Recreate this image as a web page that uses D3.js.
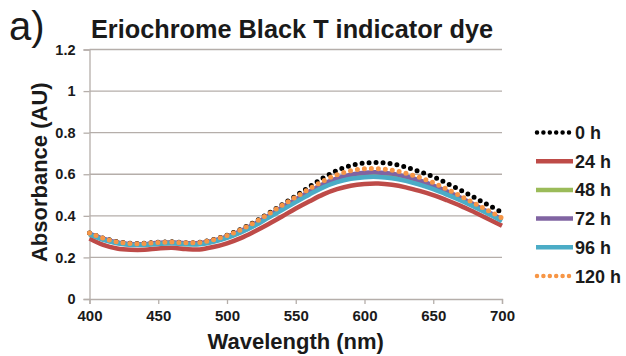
<!DOCTYPE html>
<html><head><meta charset="utf-8">
<script src="https://cdn.jsdelivr.net/npm/d3@7"></script>
<style>
html,body{margin:0;padding:0;background:#fff;}
svg{display:block;font-family:"Liberation Sans",Arial,sans-serif;}
</style></head>
<body><svg id="c" width="626" height="356"></svg>
<script>
const wavelengths = [400,410,420,430,440,450,460,470,480,490,500,510,520,530,540,550,560,570,580,590,600,610,620,630,640,650,660,670,680,690,700];
const seriesNames = ["0 h","24 h","48 h","72 h","96 h","120 h"];
const h0   = [0.318,0.293,0.276,0.268,0.268,0.273,0.275,0.271,0.273,0.286,0.307,0.335,0.371,0.411,0.454,0.496,0.540,0.583,0.618,0.642,0.654,0.656,0.650,0.635,0.613,0.588,0.556,0.523,0.488,0.452,0.416];
const h24  = [0.291,0.260,0.243,0.237,0.237,0.243,0.246,0.240,0.238,0.250,0.268,0.293,0.325,0.360,0.397,0.435,0.470,0.503,0.528,0.545,0.553,0.555,0.549,0.537,0.520,0.500,0.475,0.448,0.417,0.385,0.352];
const h48  = [0.312,0.287,0.270,0.262,0.262,0.267,0.270,0.265,0.266,0.278,0.297,0.323,0.356,0.395,0.434,0.472,0.510,0.545,0.571,0.588,0.596,0.598,0.592,0.578,0.560,0.537,0.510,0.480,0.448,0.414,0.379];
const h72  = [0.315,0.290,0.272,0.264,0.264,0.270,0.272,0.268,0.269,0.281,0.300,0.327,0.361,0.400,0.440,0.479,0.517,0.553,0.580,0.598,0.607,0.609,0.603,0.589,0.570,0.546,0.518,0.487,0.453,0.418,0.383];
const h96  = [0.310,0.284,0.268,0.260,0.260,0.265,0.268,0.263,0.263,0.275,0.294,0.320,0.352,0.390,0.428,0.466,0.503,0.537,0.562,0.578,0.586,0.587,0.581,0.568,0.550,0.528,0.502,0.474,0.443,0.410,0.375];
const h120 = [0.318,0.293,0.275,0.267,0.267,0.272,0.274,0.270,0.272,0.285,0.305,0.333,0.368,0.408,0.450,0.490,0.530,0.568,0.598,0.617,0.626,0.627,0.620,0.605,0.585,0.560,0.528,0.495,0.460,0.425,0.390];
const xTicks = [400,450,500,550,600,650,700];
const yTicks = [0,0.2,0.4,0.6,0.8,1,1.2];
const yTickLabels = ["0","0.2","0.4","0.6","0.8","1","1.2"];

const seriesValues = [h0,h24,h48,h72,h96,h120];
const colors = ["#000000","#be4b48","#9bbb59","#8064a2","#4bacc6","#f79646"];
const dotted = [true,false,false,false,false,true];

const svg = d3.select("#c");
const x = d3.scaleLinear().domain([400,700]).range([89.5,502]);
const y = d3.scaleLinear().domain([0,1.2]).range([299,49.5]);
const grid = "#b5aeaa";

svg.append("g").selectAll("line").data(yTicks.slice(1)).join("line")
  .attr("x1",x(400)).attr("x2",x(700)).attr("y1",d=>y(d)).attr("y2",d=>y(d))
  .attr("stroke",grid).attr("stroke-width",1.3);

const xAxis = svg.append("g").attr("transform",`translate(0,${y(0)})`)
  .call(d3.axisBottom(x).tickValues(xTicks).tickSize(5).tickPadding(6).tickFormat(d3.format("d")));
const yAxis = svg.append("g").attr("transform",`translate(${x(400)},0)`)
  .call(d3.axisLeft(y).tickValues(yTicks).tickSize(6).tickPadding(8).tickFormat((d,i)=>yTickLabels[i]));
[xAxis,yAxis].forEach(a=>{
  a.select(".domain").attr("stroke",grid).attr("stroke-width",1.3);
  a.selectAll(".tick line").attr("stroke",grid).attr("stroke-width",1.3);
  a.selectAll("text").attr("fill","#1a1a1a").attr("font-weight","bold").attr("font-family","Liberation Sans, Arial, sans-serif");
});
xAxis.selectAll("text").attr("font-size",15);
yAxis.selectAll("text").attr("font-size",14.5);

const line = d3.line().x((d,i)=>x(wavelengths[i])).y(d=>y(d)).curve(d3.curveCatmullRom.alpha(0.5));
seriesValues.forEach((vals,k)=>{
  const p = svg.append("path").attr("d",line(vals)).attr("fill","none")
    .attr("stroke",colors[k]).attr("stroke-width",dotted[k]?5:4.5);
  if(dotted[k]) p.attr("stroke-dasharray","0,7").attr("stroke-linecap","round");
});

const lg = svg.append("g");
seriesNames.forEach((n,k)=>{
  const ly = 132.5 + k*28.7;
  const l = lg.append("line").attr("x1",536).attr("x2",573).attr("y1",ly).attr("y2",ly)
    .attr("stroke",colors[k]).attr("stroke-width",4.5);
  if(dotted[k]) l.attr("stroke-dasharray","0,6.4").attr("stroke-linecap","round").attr("x1",537);
  lg.append("text").attr("x",575).attr("y",ly+6.5).attr("font-size",18).attr("font-weight","bold")
    .attr("fill","#1a1a1a").text(n);
});

svg.append("text").attr("x",91).attr("y",37.5).attr("font-size",25.3).attr("font-weight","bold")
  .attr("fill","#1a1a1a").text("Eriochrome Black T indicator dye");
svg.append("text").attr("x",9).attr("y",40).attr("font-size",40)
  .attr("fill","#1a1a1a").text("a)");
svg.append("text").attr("x",(x(400)+x(700))/2).attr("y",349).attr("text-anchor","middle")
  .attr("font-size",22).attr("font-weight","bold").attr("fill","#1a1a1a").text("Wavelength (nm)");
svg.append("text").attr("transform",`translate(47,${(y(0)+y(1.2))/2 - 2}) rotate(-90)`).attr("text-anchor","middle")
  .attr("font-size",22).attr("font-weight","bold").attr("fill","#1a1a1a").text("Absorbance (AU)");
</script></body></html>
